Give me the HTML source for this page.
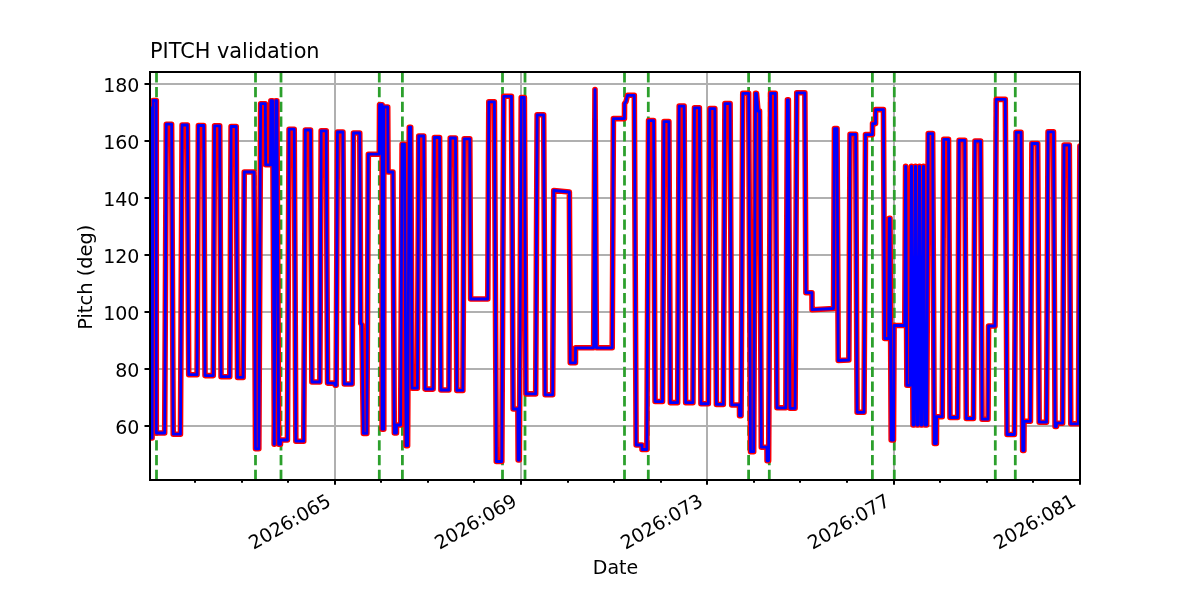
<!DOCTYPE html><html><head><meta charset="utf-8"><style>html,body{margin:0;padding:0;background:#fff;}svg{display:block;}text{font-family:"DejaVu Sans","Liberation Sans",sans-serif;fill:#000;}</style></head><body>
<svg width="1200" height="600" viewBox="0 0 1200 600">
<rect width="1200" height="600" fill="#fff"/>
<defs><clipPath id="ax"><rect x="150" y="72" width="930" height="408"/></clipPath></defs>
<path d="M150 426H1080M150 369H1080M150 312H1080M150 255H1080M150 198H1080M150 141H1080M150 84H1080M335 72V480M521 72V480M707 72V480M894 72V480" stroke="#b0b0b0" stroke-width="2" fill="none"/>
<path d="M156.50 480V72M255.50 480V72M281.00 480V72M379.30 480V72M402.40 480V72M502.50 480V72M525.00 480V72M624.50 480V72M648.30 480V72M748.60 480V72M769.30 480V72M872.40 480V72M894.30 480V72M995.30 480V72M1015.30 480V72" stroke="#2ca02c" stroke-width="2.78" stroke-dasharray="10.28 4.44" fill="none" clip-path="url(#ax)"/>
<g clip-path="url(#ax)" fill="none" stroke-linejoin="round" stroke-linecap="square">
<path d="M140.00 107.50 L150.30 107.50 L150.31 438.00 L152.10 438.00 L153.10 100.50 L156.30 100.50 L156.31 433.00 L164.68 433.00 L166.28 124.20 L171.62 124.20 L173.23 434.20 L180.47 434.20 L182.08 125.00 L187.42 125.00 L188.72 374.70 L197.08 374.70 L198.38 125.50 L203.72 125.50 L205.02 375.60 L213.28 375.60 L214.58 125.80 L219.72 125.80 L221.03 376.70 L229.77 376.70 L231.07 126.50 L236.23 126.50 L237.53 377.40 L243.17 377.40 L244.24 172.00 L254.06 172.00 L255.50 448.80 L258.85 448.80 L260.64 103.70 L265.34 103.70 L265.66 164.80 L270.53 164.80 L270.87 100.70 L272.59 100.70 L274.38 444.30 L274.12 444.30 L275.91 100.70 L276.89 100.70 L278.68 444.30 L280.49 444.30 L280.51 440.00 L287.44 440.00 L289.06 129.20 L294.24 129.20 L295.86 441.20 L303.74 441.20 L305.35 130.00 L310.55 130.00 L311.86 382.00 L319.84 382.00 L321.15 130.80 L326.25 130.80 L327.56 383.10 L334.20 383.10 L335.20 385.30 L336.20 385.30 L336.14 383.10 L337.44 132.00 L342.96 132.00 L344.27 384.00 L352.13 384.00 L353.44 133.00 L359.76 133.00 L360.75 323.50 L361.80 324.50 L363.40 433.40 L366.88 433.40 L368.33 154.20 L379.27 154.20 L379.53 104.70 L382.10 104.70 L382.11 429.20 L383.80 429.20 L383.81 107.00 L387.73 107.00 L388.07 172.00 L392.96 172.00 L394.32 433.00 L396.48 433.00 L396.52 425.00 L400.62 425.00 L402.08 144.20 L404.52 144.20 L406.09 445.70 L407.61 445.70 L409.27 127.20 L410.73 127.20 L412.09 388.20 L417.41 388.20 L418.72 136.00 L423.78 136.00 L425.09 389.10 L433.11 389.10 L434.41 137.50 L439.59 137.50 L440.90 390.00 L448.90 390.00 L450.21 138.00 L455.49 138.00 L456.80 390.40 L462.90 390.40 L464.21 138.80 L469.79 138.80 L470.62 299.00 L487.78 299.00 L488.80 101.80 L494.40 101.80 L496.27 461.50 L501.83 461.50 L503.73 96.30 L511.47 96.30 L513.10 409.00 L517.87 409.00 L518.13 460.00 L519.34 460.00 L521.22 97.50 L524.38 97.50 L525.92 393.90 L535.68 393.90 L537.13 114.80 L543.67 114.80 L545.12 394.80 L552.68 394.80 L553.74 190.50 L569.37 192.00 L570.26 362.80 L575.46 362.80 L575.54 347.80 L593.62 347.80 L594.96 89.60 L595.04 89.60 L596.38 347.80 L612.22 347.80 L613.41 118.60 L624.46 118.60 L624.54 103.60 L626.00 101.60 L627.50 95.30 L634.32 95.30 L636.13 445.00 L641.99 445.00 L642.01 449.50 L646.84 449.50 L648.55 120.60 L653.60 120.60 L655.06 401.55 L662.54 401.55 L664.00 121.60 L668.90 121.60 L670.36 402.65 L677.64 402.65 L679.18 106.10 L684.12 106.10 L685.66 402.65 L692.94 402.65 L694.47 107.80 L699.38 107.80 L700.92 403.75 L708.33 403.75 L709.87 108.60 L714.83 108.60 L716.37 404.45 L723.33 404.45 L724.89 103.60 L730.11 103.60 L731.68 404.95 L739.47 404.95 L739.53 415.70 L741.07 415.70 L742.74 93.30 L748.66 93.30 L750.52 451.70 L753.68 451.70 L755.54 93.30 L756.50 93.30 L758.00 111.10 L759.55 111.10 L761.30 447.20 L766.96 447.20 L767.04 460.80 L768.63 460.80 L770.54 93.30 L775.31 93.30 L776.94 407.80 L785.81 407.80 L787.41 99.90 L788.39 99.90 L789.99 408.30 L795.11 408.30 L796.75 92.80 L804.85 92.80 L805.89 292.70 L811.96 292.70 L812.04 309.70 L833.53 308.50 L834.46 128.60 L837.04 128.60 L838.24 360.50 L848.86 360.00 L850.03 134.40 L855.67 134.40 L857.11 412.30 L864.04 412.30 L865.48 134.60 L872.47 134.60 L872.53 123.60 L875.56 123.60 L875.64 109.60 L883.44 109.60 L884.63 338.50 L888.67 338.50 L889.29 218.30 L890.01 218.30 L891.16 440.00 L893.50 440.00 L894.10 325.50 L904.74 325.50 L905.57 166.30 L905.73 166.30 L906.87 385.30 L910.23 385.30 L911.37 166.30 L911.63 166.30 L912.98 425.00 L914.02 425.00 L915.37 166.30 L915.63 166.30 L916.98 425.00 L918.02 425.00 L919.37 166.30 L919.63 166.30 L920.98 425.00 L922.02 425.00 L923.37 166.30 L923.63 166.30 L924.98 425.00 L926.72 425.00 L928.24 133.60 L932.66 133.60 L934.28 443.50 L936.43 443.50 L936.57 416.70 L942.26 416.70 L943.71 139.40 L948.54 139.40 L949.99 417.50 L957.66 417.50 L959.10 140.30 L964.80 140.30 L966.25 418.50 L973.50 418.50 L974.95 141.10 L980.60 141.10 L982.05 419.20 L988.06 419.20 L988.54 326.00 L995.03 326.00 L996.21 99.40 L1005.29 99.40 L1007.03 434.50 L1014.47 434.50 L1016.04 132.30 L1021.01 132.30 L1022.66 450.50 L1023.92 450.50 L1024.08 421.30 L1030.44 421.30 L1031.88 143.50 L1037.72 143.50 L1039.17 422.20 L1046.53 422.20 L1048.04 131.90 L1053.51 131.90 L1055.04 426.50 L1056.49 426.50 L1056.51 423.20 L1062.63 423.20 L1064.08 145.10 L1069.32 145.10 L1070.77 423.80 L1078.43 423.80 L1079.87 146.00 L1086.00 146.00" stroke="#ff0000" stroke-width="5.56"/>
<path d="M140.00 107.50 L150.30 107.50 L150.31 438.00 L152.10 438.00 L153.10 100.50 L156.30 100.50 L156.31 433.00 L164.68 433.00 L166.28 124.20 L171.62 124.20 L173.23 434.20 L180.47 434.20 L182.08 125.00 L187.42 125.00 L188.72 374.70 L197.08 374.70 L198.38 125.50 L203.72 125.50 L205.02 375.60 L213.28 375.60 L214.58 125.80 L219.72 125.80 L221.03 376.70 L229.77 376.70 L231.07 126.50 L236.23 126.50 L237.53 377.40 L243.17 377.40 L244.24 172.00 L254.06 172.00 L255.50 448.80 L258.85 448.80 L260.64 103.70 L265.34 103.70 L265.66 164.80 L270.53 164.80 L270.87 100.70 L272.59 100.70 L274.38 444.30 L274.12 444.30 L275.91 100.70 L276.89 100.70 L278.68 444.30 L280.49 444.30 L280.51 440.00 L287.44 440.00 L289.06 129.20 L294.24 129.20 L295.86 441.20 L303.74 441.20 L305.35 130.00 L310.55 130.00 L311.86 382.00 L319.84 382.00 L321.15 130.80 L326.25 130.80 L327.56 383.10 L334.20 383.10 L335.20 385.30 L336.20 385.30 L336.14 383.10 L337.44 132.00 L342.96 132.00 L344.27 384.00 L352.13 384.00 L353.44 133.00 L359.76 133.00 L360.75 323.50 L361.80 324.50 L363.40 433.40 L366.88 433.40 L368.33 154.20 L379.27 154.20 L379.53 104.70 L382.10 104.70 L382.11 429.20 L383.80 429.20 L383.81 107.00 L387.73 107.00 L388.07 172.00 L392.96 172.00 L394.32 433.00 L396.48 433.00 L396.52 425.00 L400.62 425.00 L402.08 144.20 L404.52 144.20 L406.09 445.70 L407.61 445.70 L409.27 127.20 L410.73 127.20 L412.09 388.20 L417.41 388.20 L418.72 136.00 L423.78 136.00 L425.09 389.10 L433.11 389.10 L434.41 137.50 L439.59 137.50 L440.90 390.00 L448.90 390.00 L450.21 138.00 L455.49 138.00 L456.80 390.40 L462.90 390.40 L464.21 138.80 L469.79 138.80 L470.62 299.00 L487.78 299.00 L488.80 101.80 L494.40 101.80 L496.27 461.50 L501.83 461.50 L503.73 96.30 L511.47 96.30 L513.10 409.00 L517.87 409.00 L518.13 460.00 L519.34 460.00 L521.22 97.50 L524.38 97.50 L525.92 393.90 L535.68 393.90 L537.13 114.80 L543.67 114.80 L545.12 394.80 L552.68 394.80 L553.74 190.50 L569.37 192.00 L570.26 362.80 L575.46 362.80 L575.54 347.80 L593.62 347.80 L594.96 89.60 L595.04 89.60 L596.38 347.80 L612.22 347.80 L613.41 118.60 L624.46 118.60 L624.54 103.60 L626.00 101.60 L627.50 95.30 L634.32 95.30 L636.13 445.00 L641.99 445.00 L642.01 449.50 L646.84 449.50 L648.55 120.60 L653.60 120.60 L655.06 401.55 L662.54 401.55 L664.00 121.60 L668.90 121.60 L670.36 402.65 L677.64 402.65 L679.18 106.10 L684.12 106.10 L685.66 402.65 L692.94 402.65 L694.47 107.80 L699.38 107.80 L700.92 403.75 L708.33 403.75 L709.87 108.60 L714.83 108.60 L716.37 404.45 L723.33 404.45 L724.89 103.60 L730.11 103.60 L731.68 404.95 L739.47 404.95 L739.53 415.70 L741.07 415.70 L742.74 93.30 L748.66 93.30 L750.52 451.70 L753.68 451.70 L755.54 93.30 L756.50 93.30 L758.00 111.10 L759.55 111.10 L761.30 447.20 L766.96 447.20 L767.04 460.80 L768.63 460.80 L770.54 93.30 L775.31 93.30 L776.94 407.80 L785.81 407.80 L787.41 99.90 L788.39 99.90 L789.99 408.30 L795.11 408.30 L796.75 92.80 L804.85 92.80 L805.89 292.70 L811.96 292.70 L812.04 309.70 L833.53 308.50 L834.46 128.60 L837.04 128.60 L838.24 360.50 L848.86 360.00 L850.03 134.40 L855.67 134.40 L857.11 412.30 L864.04 412.30 L865.48 134.60 L872.47 134.60 L872.53 123.60 L875.56 123.60 L875.64 109.60 L883.44 109.60 L884.63 338.50 L888.67 338.50 L889.29 218.30 L890.01 218.30 L891.16 440.00 L893.50 440.00 L894.10 325.50 L904.74 325.50 L905.57 166.30 L905.73 166.30 L906.87 385.30 L910.23 385.30 L911.37 166.30 L911.63 166.30 L912.98 425.00 L914.02 425.00 L915.37 166.30 L915.63 166.30 L916.98 425.00 L918.02 425.00 L919.37 166.30 L919.63 166.30 L920.98 425.00 L922.02 425.00 L923.37 166.30 L923.63 166.30 L924.98 425.00 L926.72 425.00 L928.24 133.60 L932.66 133.60 L934.28 443.50 L936.43 443.50 L936.57 416.70 L942.26 416.70 L943.71 139.40 L948.54 139.40 L949.99 417.50 L957.66 417.50 L959.10 140.30 L964.80 140.30 L966.25 418.50 L973.50 418.50 L974.95 141.10 L980.60 141.10 L982.05 419.20 L988.06 419.20 L988.54 326.00 L995.03 326.00 L996.21 99.40 L1005.29 99.40 L1007.03 434.50 L1014.47 434.50 L1016.04 132.30 L1021.01 132.30 L1022.66 450.50 L1023.92 450.50 L1024.08 421.30 L1030.44 421.30 L1031.88 143.50 L1037.72 143.50 L1039.17 422.20 L1046.53 422.20 L1048.04 131.90 L1053.51 131.90 L1055.04 426.50 L1056.49 426.50 L1056.51 423.20 L1062.63 423.20 L1064.08 145.10 L1069.32 145.10 L1070.77 423.80 L1078.43 423.80 L1079.87 146.00 L1086.00 146.00" stroke="#0000ff" stroke-width="2.78"/>
</g>
<rect x="150" y="72" width="930" height="408" fill="none" stroke="#000" stroke-width="2" stroke-linecap="square"/>
<path d="M150 426h-5.5M150 369h-5.5M150 312h-5.5M150 255h-5.5M150 198h-5.5M150 141h-5.5M150 84h-5.5M195 480v2.78M242 480v2.78M288 480v2.78M335 480v4.86M381 480v2.78M428 480v2.78M474 480v2.78M521 480v4.86M568 480v2.78M614 480v2.78M661 480v2.78M707 480v4.86M754 480v2.78M800 480v2.78M847 480v2.78M894 480v4.86M940 480v2.78M987 480v2.78M1033 480v2.78M1080 480v4.86" stroke="#000" stroke-width="2" fill="none"/>
<text x="139.4" y="434.10" font-size="19" text-anchor="end">60</text>
<text x="139.4" y="377.10" font-size="19" text-anchor="end">80</text>
<text x="139.4" y="320.10" font-size="19" text-anchor="end">100</text>
<text x="139.4" y="263.10" font-size="19" text-anchor="end">120</text>
<text x="139.4" y="206.10" font-size="19" text-anchor="end">140</text>
<text x="139.4" y="149.10" font-size="19" text-anchor="end">160</text>
<text x="139.4" y="92.10" font-size="19" text-anchor="end">180</text>
<text transform="translate(332.30,504.60) rotate(-30)" font-size="19" text-anchor="end">2026:065</text>
<text transform="translate(518.30,504.60) rotate(-30)" font-size="19" text-anchor="end">2026:069</text>
<text transform="translate(704.30,504.60) rotate(-30)" font-size="19" text-anchor="end">2026:073</text>
<text transform="translate(891.30,504.60) rotate(-30)" font-size="19" text-anchor="end">2026:077</text>
<text transform="translate(1077.30,504.60) rotate(-30)" font-size="19" text-anchor="end">2026:081</text>
<text x="615.5" y="573.9" font-size="19" text-anchor="middle">Date</text>
<text transform="translate(91.5,277.2) rotate(-90)" font-size="19.44" text-anchor="middle">Pitch (deg)</text>
<text x="150" y="58.2" font-size="20.83">PITCH validation</text>
</svg></body></html>
